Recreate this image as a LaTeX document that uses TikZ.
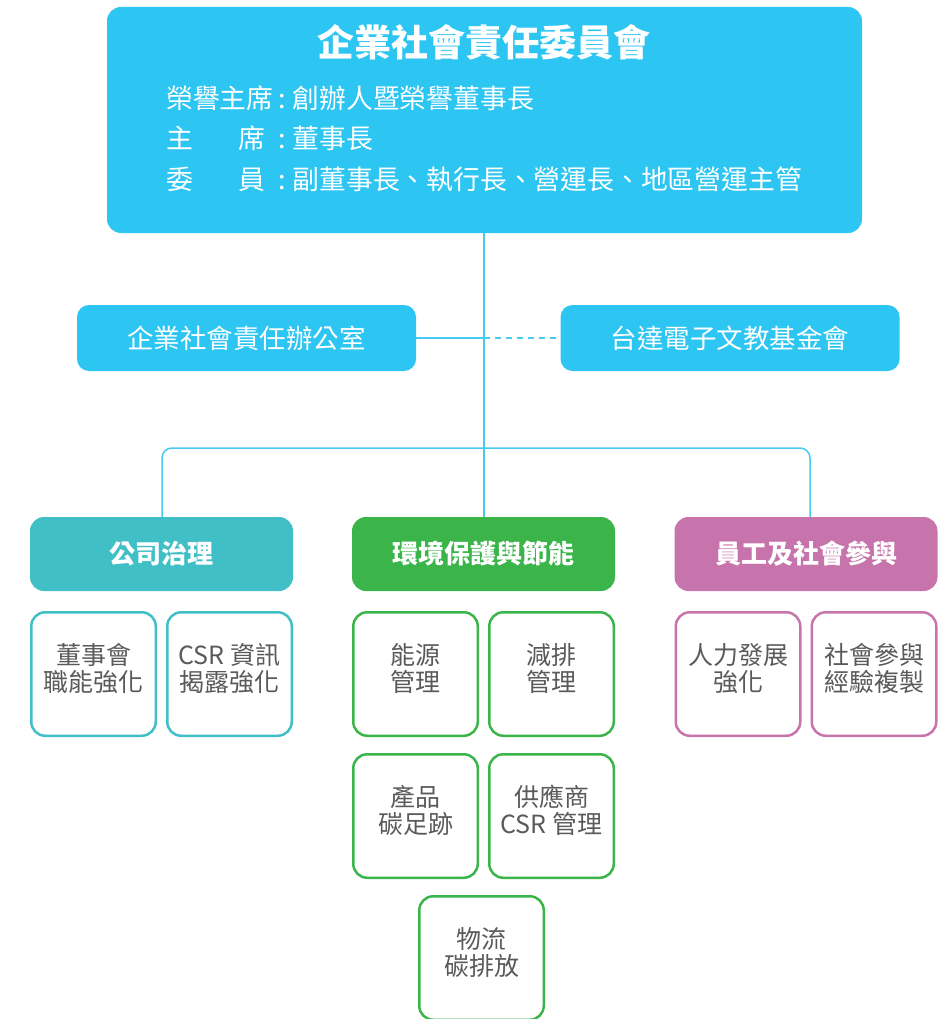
\documentclass[tikz,border=0pt]{standalone}
\usepackage{fontspec}
\setmainfont{Noto Sans CJK TC}
\usetikzlibrary{positioning}
\definecolor{csrblue}{RGB}{45,197,242}
\definecolor{govteal}{RGB}{65,191,198}
\definecolor{envgreen}{RGB}{59,181,74}
\definecolor{socpink}{RGB}{199,116,172}
\definecolor{linkblue}{RGB}{70,202,242}
\definecolor{itemgray}{RGB}{90,90,90}
\tikzstyle{board} = [rectangle, fill=csrblue, rounded corners=14pt,
    minimum width=755pt, minimum height=226pt, inner sep=0pt]
\tikzstyle{member} = [anchor=west, text=white, inner sep=0pt,
    font=\fontsize{26.8}{30}\selectfont]
\tikzstyle{office} = [rectangle, fill=csrblue, rounded corners=12pt, text=white,
    minimum width=339pt, minimum height=66pt, font=\fontsize{26.5}{30}\selectfont]
\tikzstyle{cat} = [rectangle, rounded corners=14pt, text=white,
    minimum width=263pt, minimum height=74pt, font=\bfseries\fontsize{26}{30}\selectfont]
\tikzstyle{item} = [rectangle, draw, line width=2.5pt, rounded corners=14pt,
    fill=white, text=itemgray, align=center, minimum width=124.5pt,
    minimum height=123.5pt, text height=50pt, text depth=16pt,
    font=\fontsize{25}{27}\selectfont]
\tikzstyle{link} = [draw=linkblue, line width=1.5pt]

\begin{document}
\begin{tikzpicture}[x=1pt, y=-1pt]
    \useasboundingbox (0,0) rectangle (951,1019);
    \clip (0,0) rectangle (951,1019);
    % Place nodes
    \node[board] (board) at (484.5,120) {};
    \node[text=white, font=\bfseries\fontsize{37}{40}\selectfont] (title) at (484,42) {企業社會責任委員會};
    \node[member] (honor) at (166,98) {\makebox[112pt][l]{榮譽主席}:\hspace{7pt}創辦人暨榮譽董事長};
    \node[member] (chair) at (166,138) {\makebox[112pt][l]{主\hspace{1.7em}席}:\hspace{7pt}董事長};
    \node[member] (members) at (166,179) {\makebox[112pt][l]{委\hspace{1.7em}員}:\hspace{7pt}副董事長、執行長、營運長、地區營運主管};
    \node[office] (office) at (246.5,338) {企業社會責任辦公室};
    \node[office] (fund) at (730,338) {台達電子文教基金會};
    \node[cat, fill=govteal] (gov) at (161.5,554) {公司治理};
    \node[cat, fill=envgreen] (env) at (483.5,554) {環境保護與節能};
    \node[cat, fill=socpink] (soc) at (806,554) {員工及社會參與};
    % Items
    \node[item, draw=govteal] (board-duty) at (93.5,674) {董事會\\職能強化};
    \node[item, draw=govteal, right=9pt of board-duty] (disclosure) {CSR 資訊\\揭露強化};
    \node[item, draw=envgreen] (energy) at (415.5,674) {能源\\管理};
    \node[item, draw=envgreen, right=9pt of energy] (reduction) {減排\\管理};
    \node[item, draw=envgreen, below=16pt of energy] (footprint) {產品\\碳足跡};
    \node[item, draw=envgreen, below=16pt of reduction] (supplier) {供應商\\CSR 管理};
    \node[item, draw=envgreen] (logistics) at (481.5,958) {物流\\碳排放};
    \node[item, draw=socpink] (talent) at (738,674) {人力發展\\強化};
    \node[item, draw=socpink, right=9pt of talent] (community) {社會參與\\經驗複製};
    % Draw edges
    \coordinate (hub) at (484,338);
    \coordinate (fork) at (484,448);
    \path[link] (hub |- board.south) -- (hub |- env.north);
    \path[link] (office.east) -- (hub);
    \path[link, dash pattern=on 6pt off 5pt] (hub) -- (fund.west);
    \path[link, rounded corners=10pt] (gov.north -| 162,0) |- (fork) -| (soc.north -| 810,0);
\end{tikzpicture}
\end{document}
